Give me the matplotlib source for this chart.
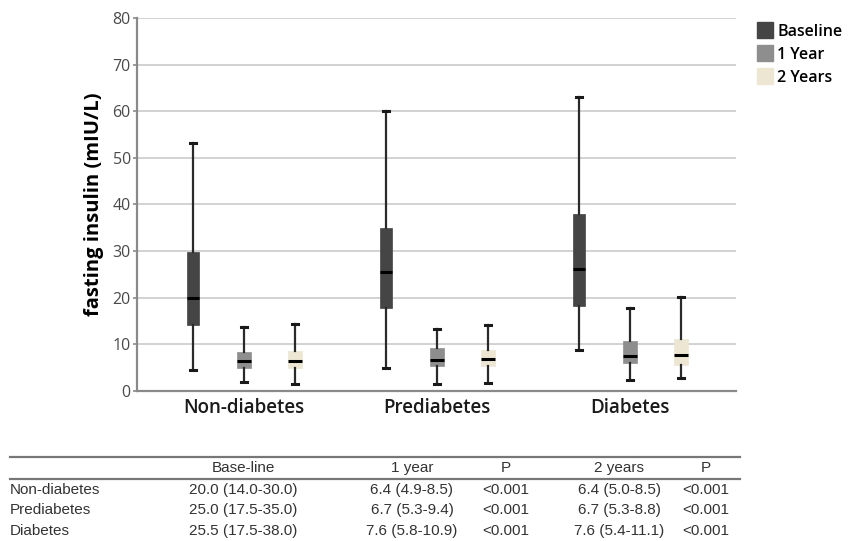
import matplotlib
matplotlib.use("Agg")
import matplotlib.pyplot as plt
from matplotlib.patches import Patch
from matplotlib.lines import Line2D

# ---------------- data ----------------
groups = ["Non-diabetes", "Prediabetes", "Diabetes"]
series = ["Baseline", "1 Year", "2 Years"]

# box statistics per series, one value per group
whislo = {"Baseline": [4.6, 4.9, 8.9], "1 Year": [2.0, 1.6, 2.4], "2 Years": [1.5, 1.8, 2.7]}
q1 = {"Baseline": [14.2, 17.7, 18.3], "1 Year": [5.0, 5.4, 5.9], "2 Years": [4.9, 5.4, 5.6]}
med = {"Baseline": [20.0, 25.6, 26.1], "1 Year": [6.4, 6.7, 7.6], "2 Years": [6.4, 6.9, 7.7]}
q3 = {"Baseline": [29.9, 34.9, 37.9], "1 Year": [8.4, 9.3, 10.8], "2 Years": [8.6, 8.8, 11.1]}
whishi = {"Baseline": [53.1, 60.1, 63.1], "1 Year": [13.7, 13.2, 17.7], "2 Years": [14.4, 14.2, 20.1]}

yticks = [0, 10, 20, 30, 40, 50, 60, 70, 80]
ylabel = "fasting insulin (mIU/L)"

table_header = ["", "Base-line", "1 year", "P", "2 years", "P"]
table_rows = [
    ["Non-diabetes", "20.0 (14.0-30.0)", "6.4 (4.9-8.5)", "<0.001", "6.4 (5.0-8.5)", "<0.001"],
    ["Prediabetes", "25.0 (17.5-35.0)", "6.7 (5.3-9.4)", "<0.001", "6.7 (5.3-8.8)", "<0.001"],
    ["Diabetes", "25.5 (17.5-38.0)", "7.6 (5.8-10.9)", "<0.001", "7.6 (5.4-11.1)", "<0.001"],
]

# ---------------- style ----------------
colors = {"Baseline": "#454545", "1 Year": "#8e8e8e", "2 Years": "#ece6d3"}
offsets = {"Baseline": -0.264, "1 Year": 0.0, "2 Years": 0.264}
widths = {"Baseline": 0.064, "1 Year": 0.07, "2 Years": 0.07}

W, H = 856, 541
fig = plt.figure(figsize=(W / 100, H / 100), dpi=100)
ax = fig.add_axes([137 / W, 1 - 391 / H, (736 - 137) / W, (391 - 18) / H])

for s in series:
    stats = []
    for i, g in enumerate(groups):
        stats.append(dict(med=med[s][i], q1=q1[s][i], q3=q3[s][i],
                          whislo=whislo[s][i], whishi=whishi[s][i], fliers=[]))
    pos = [i + offsets[s] for i in range(len(groups))]
    ax.bxp(stats, positions=pos, widths=widths[s], patch_artist=True,
           showfliers=False, capwidths=0.032,
           boxprops=dict(facecolor=colors[s], edgecolor=colors[s], linewidth=0.5),
           whiskerprops=dict(color="#2a2a2a", linewidth=1.6),
           capprops=dict(color="#1a1a1a", linewidth=2.2),
           medianprops=dict(color="#000000", linewidth=2.2), zorder=3)

ax.set_xlim(-0.554, 2.549)
ax.set_ylim(0, 80)
ax.set_yticks(yticks)
ax.set_xticks(range(len(groups)))
ax.set_xticklabels(groups, fontsize=13.5, family="Open Sans", fontweight="semibold",
                   color="#1a1a1a")
ax.tick_params(axis="x", length=0, pad=5)
ax.tick_params(axis="y", length=3, width=1.2, color="#8a8a8a", labelsize=11.5,
               labelcolor="#4a4a4a", pad=1.5)
for lab in ax.get_yticklabels():
    lab.set_family("Open Sans")
ax.yaxis.grid(True, color="#cfcfcf", linewidth=1.3, zorder=0)
ax.set_axisbelow(True)
for sp in ["top", "right"]:
    ax.spines[sp].set_visible(False)
for sp in ["left", "bottom"]:
    ax.spines[sp].set_color("#8a8a8a")
    ax.spines[sp].set_linewidth(1.6)
ax.set_ylabel(ylabel, fontsize=14.5, fontweight="bold", family="Open Sans", labelpad=6)

handles = [Patch(facecolor=colors[s], edgecolor=colors[s], label=s) for s in series]
fig.legend(handles=handles, loc="upper left", bbox_to_anchor=(743 / W, 1 - 8 / H),
           frameon=False, prop=dict(family="Open Sans", size=11.5, weight="semibold"),
           handlelength=0.95, handleheight=1.15, handletextpad=0.3, labelspacing=0.35)

# ---------------- table ----------------
col_x = [10, 243, 412, 506, 619, 706]
col_ha = ["left", "center", "center", "center", "center", "center"]
fs = 11
tfont = "Liberation Sans"
fig.add_artist(Line2D([10 / W, 740 / W], [1 - 457 / H] * 2, color="#777777", lw=1.6))
fig.add_artist(Line2D([10 / W, 740 / W], [1 - 479 / H] * 2, color="#777777", lw=1.6))
for x, ha, t in zip(col_x, col_ha, table_header):
    fig.text(x / W, 1 - 468 / H, t, ha=ha, va="center", fontsize=fs, family=tfont,
             color="#333333")
row_y = [490, 510, 531]
for y, row in zip(row_y, table_rows):
    for x, ha, t in zip(col_x, col_ha, row):
        fig.text(x / W, 1 - y / H, t, ha=ha, va="center", fontsize=fs, family=tfont,
                 color="#333333")

fig.savefig("out.png", dpi=100, facecolor="white")
